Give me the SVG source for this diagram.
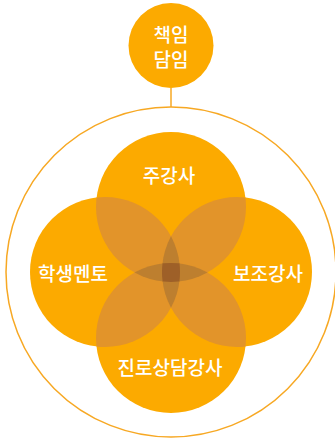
<svg xmlns="http://www.w3.org/2000/svg" width="335" height="438" viewBox="0 0 335 438">
  <style>
    .c1 { fill: #FCAA00; }
    .c2 { fill: #E2942A; }
    .c3 { fill: #BD7F2F; }
    .c4 { fill: #9E6028; }
    .line { stroke: #F7A823; stroke-width: 1.5; fill: none; }
    .lbl { font-family: "Noto Sans CJK KR", "Noto Sans", sans-serif; font-size: 19px; font-weight: 500; fill: #FFFFFF; text-anchor: middle; dominant-baseline: central; }
  </style>
  <defs>
    <clipPath id="cT"><circle cx="171" cy="207" r="75"/></clipPath>
    <clipPath id="cB"><circle cx="171" cy="338" r="75"/></clipPath>
    <clipPath id="cL"><circle cx="105" cy="272" r="75"/></clipPath>
    <clipPath id="cR"><circle cx="237" cy="272" r="75"/></clipPath>
  </defs>
  <g id="connectors">
    <line class="line" x1="171" y1="88" x2="171" y2="107"/>
  </g>
  <g id="outer">
    <circle class="line" cx="171" cy="272" r="165"/>
  </g>
  <g id="head">
    <circle class="c1" cx="171" cy="45.5" r="42.5"/>
    <text class="lbl" x="171" y="33">책임</text>
    <text class="lbl" x="171" y="58.5">담임</text>
  </g>
  <g id="circles">
    <circle class="c1" cx="171" cy="207" r="75"/>
    <circle class="c1" cx="105" cy="272" r="75"/>
    <circle class="c1" cx="237" cy="272" r="75"/>
    <circle class="c1" cx="171" cy="338" r="75"/>
    <g clip-path="url(#cT)">
      <circle class="c2" cx="105" cy="272" r="75"/>
      <circle class="c2" cx="237" cy="272" r="75"/>
      <circle class="c2" cx="171" cy="338" r="75"/>
    </g>
    <g clip-path="url(#cB)">
      <circle class="c2" cx="105" cy="272" r="75"/>
      <circle class="c2" cx="237" cy="272" r="75"/>
    </g>
    <g clip-path="url(#cL)">
      <circle class="c2" cx="237" cy="272" r="75"/>
    </g>
    <g clip-path="url(#cT)">
      <g clip-path="url(#cB)">
        <circle class="c3" cx="105" cy="272" r="75"/>
        <circle class="c3" cx="237" cy="272" r="75"/>
      </g>
    </g>
    <g clip-path="url(#cL)">
      <g clip-path="url(#cR)">
        <circle class="c3" cx="171" cy="207" r="75"/>
        <circle class="c3" cx="171" cy="338" r="75"/>
      </g>
    </g>
    <g clip-path="url(#cT)">
      <g clip-path="url(#cB)">
        <g clip-path="url(#cL)">
          <circle class="c4" cx="237" cy="272" r="75"/>
        </g>
      </g>
    </g>
  </g>
  <g id="node-main"><text class="lbl" x="169" y="174">주강사</text></g>
  <g id="node-mentor"><text class="lbl" x="73" y="272">학생멘토</text></g>
  <g id="node-assist"><text class="lbl" x="268" y="272">보조강사</text></g>
  <g id="node-career"><text class="lbl" x="170" y="366">진로상담강사</text></g>
</svg>
